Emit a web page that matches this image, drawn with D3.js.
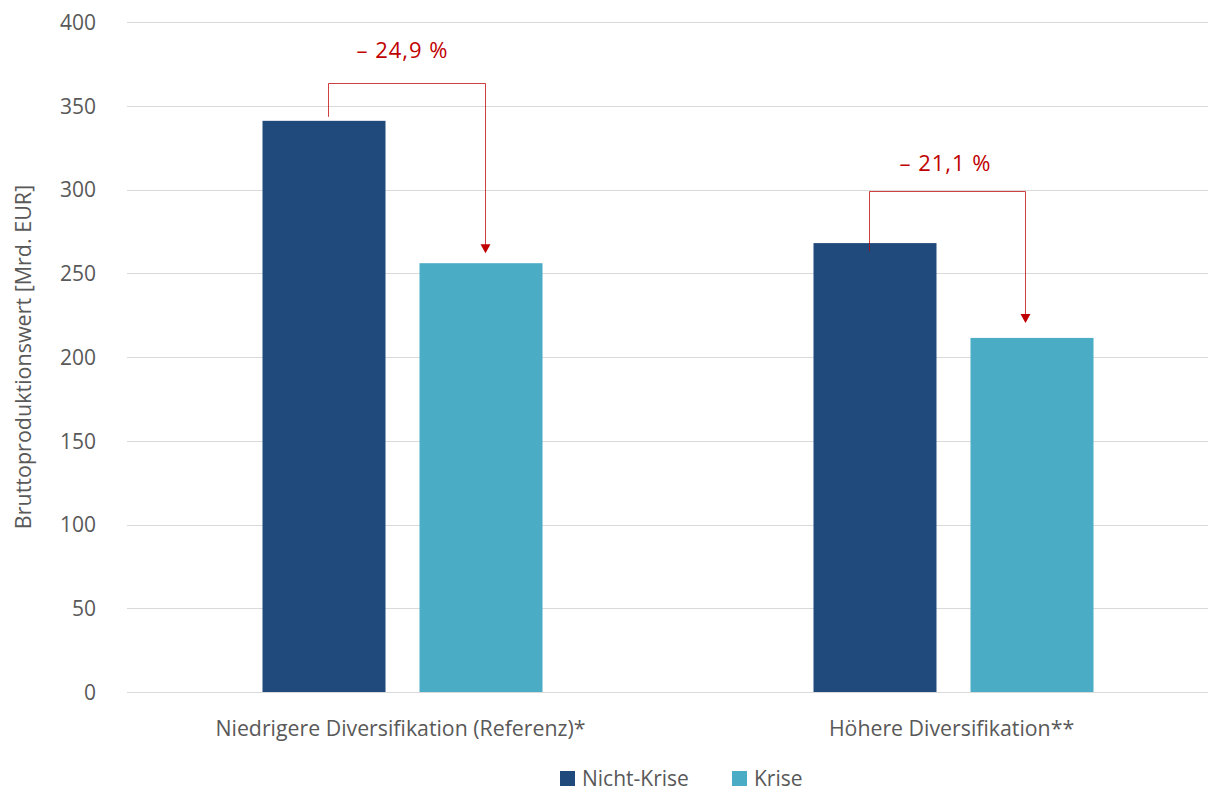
<!DOCTYPE html>
<html>
<head>
<meta charset="utf-8">
<script src="https://cdn.jsdelivr.net/npm/d3@7"></script>
<style>
  html, body { margin: 0; padding: 0; background: #fff; }
  svg { display: block; font-family: "Open Sans", "Noto Sans", sans-serif; }
</style>
</head>
<body>
<svg id="chart" width="1208" height="792"></svg>
<script>
// Gross production value per scenario, non-crisis vs. crisis
const categories = ["Niedrigere Diversifikation (Referenz)*", "Höhere Diversifikation**"];
const seriesNames = ["Nicht-Krise", "Krise"];
const nichtKrise = [341, 268];
const krise = [256, 211.4];
const changeLabels = ["– 24,9 %", "– 21,1 %"];
const yTicks = [0, 50, 100, 150, 200, 250, 300, 350, 400];
const yTitle = "Bruttoproduktionswert [Mrd. EUR]";

const colors = { "Nicht-Krise": "#214a7c", "Krise": "#4bacc6" };
const red = "#c00000";
const textGray = "#595959";

const svg = d3.select("#chart");
const margin = { left: 127, right: -21, top: 22, bottom: 100 };
const W = 1208, H = 792;
const x0 = margin.left, x1 = W - margin.right;
const yTop = margin.top, yBot = H - margin.bottom;

const x = d3.scaleBand().domain(categories).range([x0, x1]).paddingInner(0).paddingOuter(0);
const xs = d3.scaleBand().domain(seriesNames).range([0, 280]).paddingInner(34 / 157).paddingOuter(0);
const y = d3.scaleLinear().domain([0, 400]).range([yBot, yTop]);

// grid lines
svg.append("g")
  .selectAll("line").data(yTicks).join("line")
  .attr("x1", x0).attr("x2", x1)
  .attr("y1", d => Math.round(y(d)) + 0.5).attr("y2", d => Math.round(y(d)) + 0.5)
  .attr("stroke", "#d9d9d9").attr("stroke-width", 1);

// y axis labels
const yAxis = d3.axisLeft(y).tickValues(yTicks).tickSize(0).tickPadding(0);
const ga = svg.append("g").attr("transform", `translate(96,0)`).call(yAxis);
ga.select(".domain").remove();
ga.selectAll("text").attr("font-size", 21).attr("fill", textGray)
  .attr("font-family", "\"Open Sans\", sans-serif").attr("dy", "0.35em");

// y title
svg.append("text")
  .attr("transform", `translate(31,${(yTop + yBot) / 2}) rotate(-90)`)
  .attr("text-anchor", "middle").attr("font-size", 21.5).attr("fill", textGray)
  .text(yTitle);

// bars
const rows = categories.map((c, i) => ({ cat: c, vals: [nichtKrise[i], krise[i]] }));
const groupOffset = c => x(c) + x.bandwidth() / 2 - 140;

const groups = svg.append("g").selectAll("g").data(rows).join("g")
  .attr("transform", d => `translate(${groupOffset(d.cat)},0)`);
groups.selectAll("rect").data(d => d.vals.map((v, j) => ({ s: seriesNames[j], v })))
  .join("rect")
  .attr("x", d => xs(d.s)).attr("width", xs.bandwidth())
  .attr("y", d => y(d.v)).attr("height", d => yBot - y(d.v))
  .attr("fill", d => colors[d.s]);

// category labels
svg.append("g").selectAll("text").data(categories).join("text")
  .attr("x", d => x(d) + x.bandwidth() / 2 - 2)
  .attr("y", yBot + 44)
  .attr("text-anchor", "middle").attr("font-size", 21.3).attr("fill", textGray)
  .text(d => d);

// change brackets with arrows
const bracketStyle = [
  { rise: 38, leftDx: 3.5, rightDx: 3.5, leftEnd: -4, tipGap: 10, labelRise: 26, labelDx: 0 },
  { rise: 52, leftDx: -6.5, rightDx: -7.5, leftEnd: 8, tipGap: 15, labelRise: 21, labelDx: -8 }
];
rows.forEach((r, i) => {
  const st = bracketStyle[i];
  const g0 = groupOffset(r.cat);
  const xa = Math.round(g0 + xs(seriesNames[0]) + xs.bandwidth() / 2 + st.leftDx) + 0.5;
  const xb = Math.round(g0 + xs(seriesNames[1]) + xs.bandwidth() / 2 + st.rightDx) + 0.5;
  const topY = Math.round(y(r.vals[0]) - st.rise) + 0.5;
  const tipY = y(r.vals[1]) - st.tipGap;
  svg.append("path")
    .attr("d", `M${xa},${y(r.vals[0]) + st.leftEnd} V${topY} H${xb} V${tipY - 8}`)
    .attr("fill", "none").attr("stroke", red).attr("stroke-opacity", 0.75).attr("stroke-width", 1);
  svg.append("path")
    .attr("d", `M${xb - 5},${tipY - 9} L${xb + 5},${tipY - 9} L${xb},${tipY} Z`)
    .attr("fill", red);
  svg.append("text")
    .attr("x", g0 + 140 + st.labelDx).attr("y", topY - st.labelRise)
    .attr("text-anchor", "middle").attr("font-size", 22).attr("fill", red)
    .attr("letter-spacing", "1px")
    .text(changeLabels[i]);
});

// legend
const legend = svg.append("g").attr("transform", "translate(560,771)");
const legX = [0, 172];
seriesNames.forEach((s, i) => {
  const lg = legend.append("g").attr("transform", `translate(${legX[i]},0)`);
  lg.append("rect").attr("width", 15).attr("height", 15).attr("fill", colors[s]);
  lg.append("text").attr("x", 22).attr("y", 14.5).attr("font-size", 21).attr("fill", textGray).text(s);
});
</script>
</body>
</html>
